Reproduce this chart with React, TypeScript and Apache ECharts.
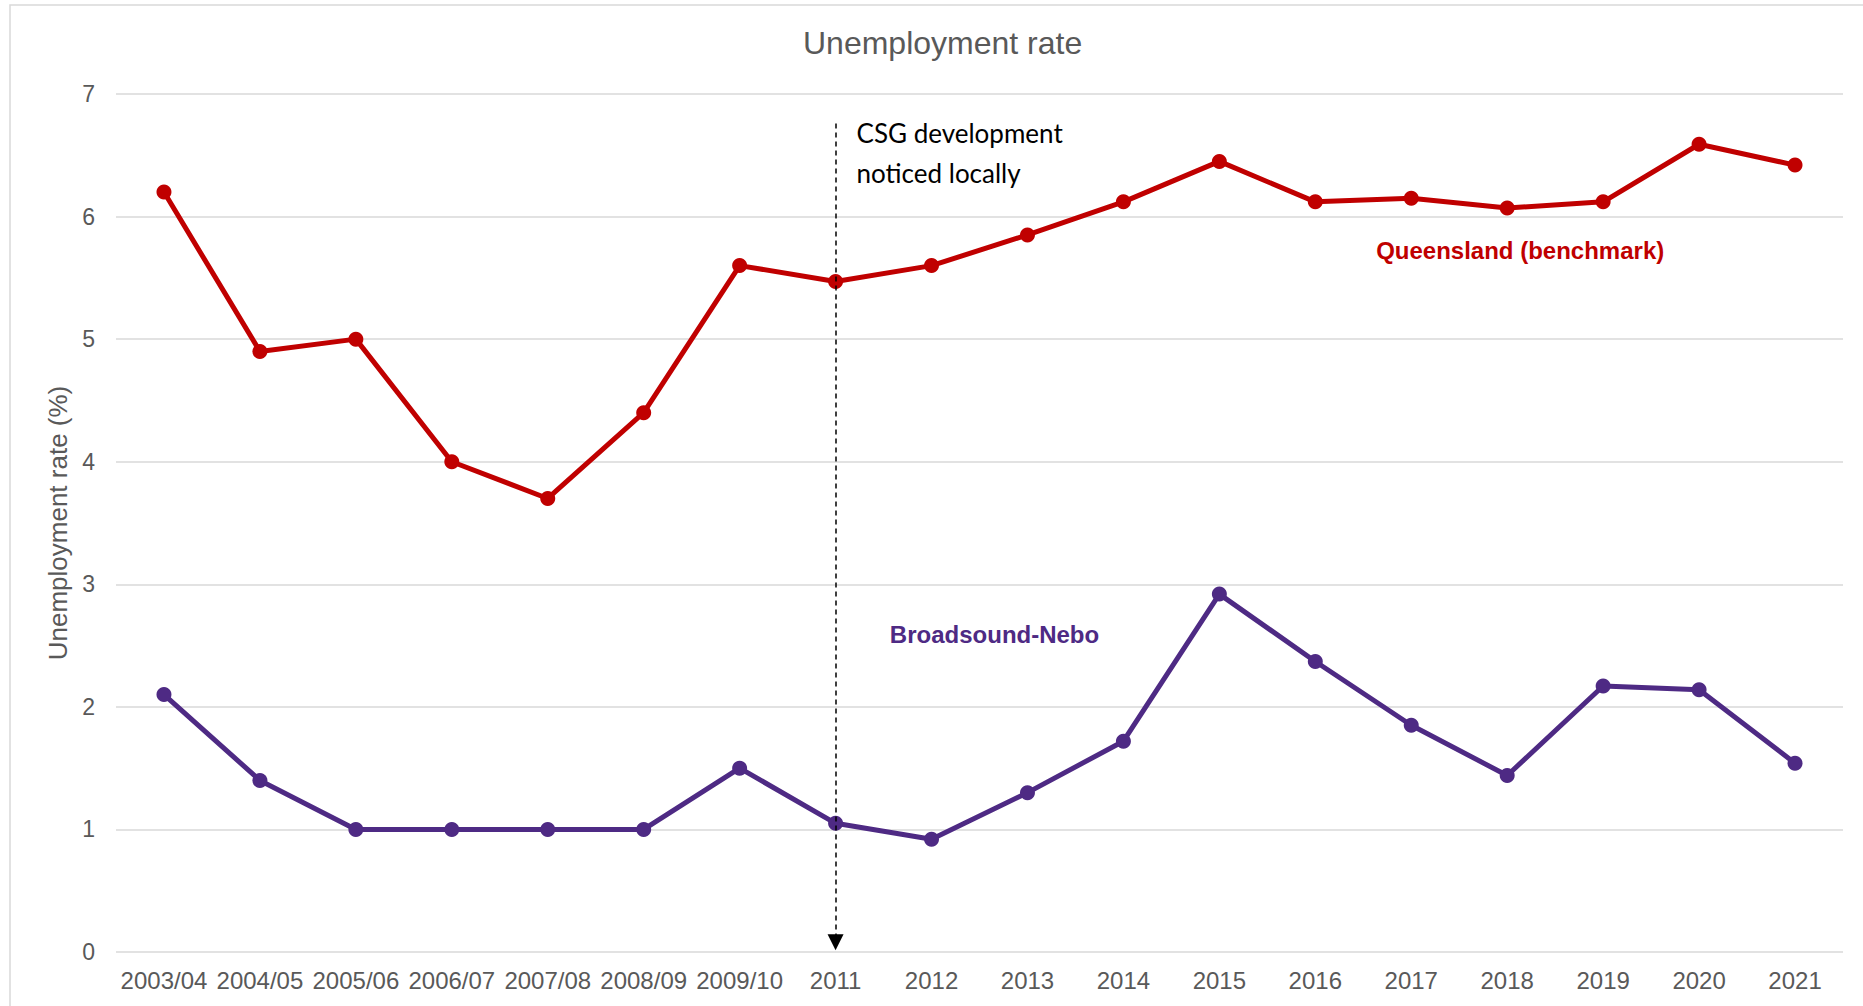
import React, { useEffect, useRef } from "react";
import * as echarts from "echarts";

const categories = [
  "2003/04", "2004/05", "2005/06", "2006/07", "2007/08", "2008/09", "2009/10",
  "2011", "2012", "2013", "2014", "2015", "2016", "2017", "2018", "2019", "2020", "2021",
];
const queensland = [6.2, 4.9, 5.0, 4.0, 3.7, 4.4, 5.6, 5.47, 5.6, 5.85, 6.12, 6.45, 6.12, 6.15, 6.07, 6.12, 6.59, 6.42];
const broadsoundNebo = [2.1, 1.4, 1.0, 1.0, 1.0, 1.0, 1.5, 1.05, 0.92, 1.3, 1.72, 2.92, 2.37, 1.85, 1.44, 2.17, 2.14, 1.54];
const yTicks = { min: 0, max: 7, interval: 1 };

const RED = "#C00000";
const PURPLE = "#4E2A84";
const GRAY = "#595959";
const FONT = "'Liberation Sans', Arial, sans-serif";

export default function App() {
  const ref = useRef<HTMLDivElement>(null);
  useEffect(() => {
    if (!ref.current) return;
    const chart = echarts.init(ref.current, null, { renderer: "svg" });
    chart.setOption({
      animation: false,
      backgroundColor: "#ffffff",
      title: {
        text: "Unemployment rate",
        left: 798,
        top: 22,
        textStyle: { color: GRAY, fontSize: 32, fontWeight: "normal", fontFamily: FONT },
      },
      graphic: [
        {
          type: "rect",
          shape: { x: 10, y: 5, width: 1900, height: 1100 },
          style: { fill: "none", stroke: "#d9d9d9", lineWidth: 1.5 },
          silent: true,
          z: -1,
        },
      ],
      grid: { left: 116, right: 20, top: 94, bottom: 54 },
      xAxis: {
        type: "category",
        data: categories,
        boundaryGap: true,
        axisLine: { show: false },
        axisTick: { show: false },
        axisLabel: { color: GRAY, fontSize: 24, fontFamily: FONT, margin: 16, interval: 0 },
      },
      yAxis: {
        type: "value",
        min: yTicks.min,
        max: yTicks.max,
        interval: yTicks.interval,
        name: "Unemployment rate (%)",
        nameLocation: "middle",
        nameGap: 43,
        nameTextStyle: { color: GRAY, fontSize: 26, fontFamily: FONT },
        axisLine: { show: false },
        axisTick: { show: false },
        axisLabel: { color: GRAY, fontSize: 23, fontFamily: FONT, margin: 21 },
        splitLine: { lineStyle: { color: "#d9d9d9", width: 1.5 } },
      },
      series: [
        {
          name: "Queensland (benchmark)",
          type: "line",
          data: queensland,
          symbol: "circle",
          symbolSize: 15,
          lineStyle: { color: RED, width: 5 },
          itemStyle: { color: RED },
          z: 3,
          markLine: {
            silent: true,
            symbol: ["none", "triangle"],
            symbolSize: [16, 16],
            label: { show: false },
            lineStyle: { color: "#000000", type: [5, 4], width: 1.5 },
            data: [[{ coord: ["2011", 6.76] }, { coord: ["2011", 0.08] }]],
          },
          markPoint: {
            silent: true,
            data: [
              {
                coord: ["2018", 5.72],
                symbolSize: 0,
                label: {
                  show: true,
                  position: "inside",
                  offset: [13, 0],
                  formatter: "Queensland (benchmark)",
                  color: RED,
                  fontSize: 24,
                  fontWeight: "bold",
                  fontFamily: FONT,
                },
              },
              {
                coord: ["2011", 6.52],
                symbolSize: 0,
                label: {
                  show: true,
                  position: "right",
                  distance: 21,
                  align: "left",
                  lineHeight: 40,
                  formatter: "CSG development\nnoticed locally",
                  color: "#000000",
                  fontSize: 26,
                  fontFamily: "Lato, 'Open Sans', sans-serif",
                },
              },
            ],
          },
        },
        {
          name: "Broadsound-Nebo",
          type: "line",
          data: broadsoundNebo,
          symbol: "circle",
          symbolSize: 15,
          lineStyle: { color: PURPLE, width: 5 },
          itemStyle: { color: PURPLE },
          z: 3,
          markPoint: {
            silent: true,
            data: [
              {
                coord: ["2012", 2.59],
                symbolSize: 0,
                label: {
                  show: true,
                  position: "inside",
                  offset: [63, 0],
                  formatter: "Broadsound-Nebo",
                  color: PURPLE,
                  fontSize: 24,
                  fontWeight: "bold",
                  fontFamily: FONT,
                },
              },
            ],
          },
        },
      ],
    });
    return () => chart.dispose();
  }, []);
  return (
    <div
      ref={ref}
      style={{ position: "absolute", left: 0, top: 0, width: 1863, height: 1006, background: "#fff" }}
    />
  );
}
